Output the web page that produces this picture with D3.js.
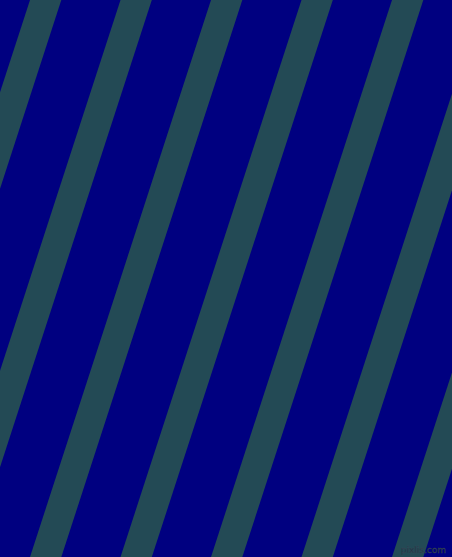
<!DOCTYPE html>
<html lang="en">
<head>
<meta charset="UTF-8">
<title>Stripes</title>
<script src="https://d3js.org/d3.v7.min.js"></script>
<style>
  html, body { margin: 0; padding: 0; background: #000080; overflow: hidden; }
</style>
</head>
<body>
<div id="chart"></div>
<script>
// left edge of each stripe where it meets the top border (px)
const stripeStarts = [-151, -60.5, 30, 120.5, 211, 301.5, 392, 482.5, 573];
const stripeWidth = 31.3;
const stripeAngle = 72; // degrees from horizontal
const colors = ["#000080", "#234a55"];
const watermark = ["pixlis.com"];

const width = 452, height = 557;

const svg = d3.select("#chart").append("svg")
    .attr("width", width)
    .attr("height", height);

svg.append("rect")
    .attr("width", width)
    .attr("height", height)
    .attr("fill", colors[0]);

// shift of a stripe edge as y goes down
const drift = d3.scaleLinear()
    .domain([0, height])
    .range([0, -height / Math.tan(stripeAngle * Math.PI / 180)]);

svg.selectAll("path.stripe")
    .data(stripeStarts)
    .enter().append("path")
    .attr("class", "stripe")
    .attr("fill", colors[1])
    .attr("d", d => {
        const p = d3.path();
        p.moveTo(d + drift(0), 0);
        p.lineTo(d + stripeWidth + drift(0), 0);
        p.lineTo(d + stripeWidth + drift(height), height);
        p.lineTo(d + drift(height), height);
        p.closePath();
        return p.toString();
    });

svg.selectAll("text.mark")
    .data(watermark)
    .enter().append("text")
    .attr("class", "mark")
    .attr("x", 446)
    .attr("y", 553)
    .attr("text-anchor", "end")
    .attr("font-family", "DejaVu Sans, sans-serif")
    .attr("font-size", 9)
    .attr("fill", "#1b2a3a")
    .attr("stroke", "#3a4a5a")
    .attr("stroke-width", 0.3)
    .text(d => d);
</script>
</body>
</html>
